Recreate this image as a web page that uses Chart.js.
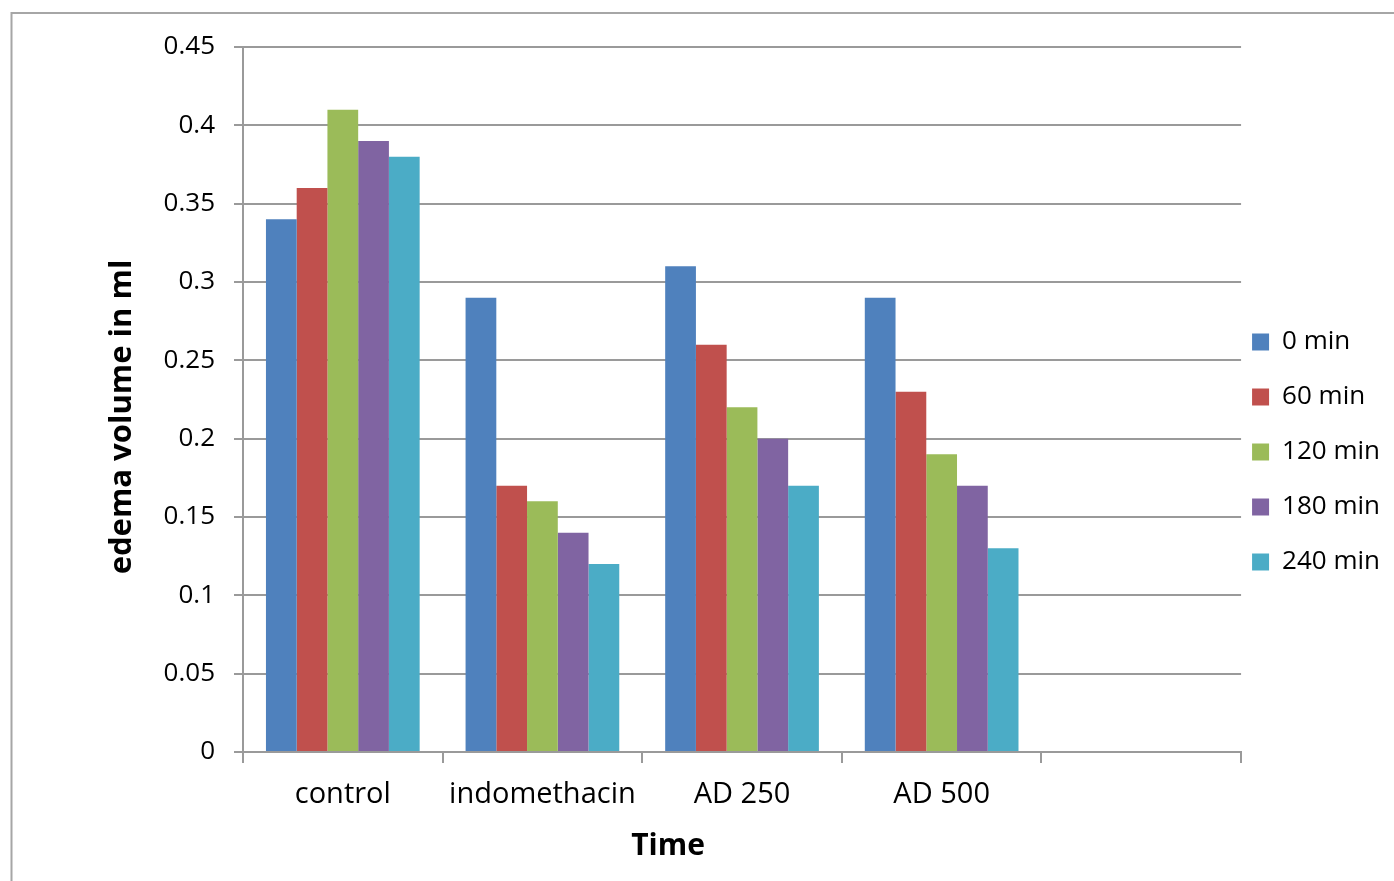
<!DOCTYPE html>
<html>
<head>
<meta charset="utf-8">
<script src="https://cdn.jsdelivr.net/npm/chart.js@4/dist/chart.umd.min.js"></script>
<style>
  html, body { margin: 0; padding: 0; background: #fff; }
  #cadre { position: relative; width: 1394px; height: 881px; }
</style>
</head>
<body>
<div id="cadre"><canvas id="graphique"></canvas></div>
<script>
const categories = ['control', 'indomethacin', 'AD 250', 'AD 500', ''];
const series = ['0 min', '60 min', '120 min', '180 min', '240 min'];

const valeurs0min = [0.34, 0.29, 0.31, 0.29, null];
const valeurs60min = [0.36, 0.17, 0.26, 0.23, null];
const valeurs120min = [0.41, 0.16, 0.22, 0.19, null];
const valeurs180min = [0.39, 0.14, 0.20, 0.17, null];
const valeurs240min = [0.38, 0.12, 0.17, 0.13, null];

const titreX = 'Time';
const titreY = 'edema volume in ml';

const couleurs = {
  bleu: '#4f81bd',
  rouge: '#c0504d',
  vert: '#9bbb59',
  violet: '#8064a2',
  cyan: '#4bacc6',
  grille: '#9a9a9a',
  texte: '#000',
};

const couleursSeries = [couleurs.bleu, couleurs.rouge, couleurs.vert, couleurs.violet, couleurs.cyan];
const valeursSeries = [valeurs0min, valeurs60min, valeurs120min, valeurs180min, valeurs240min];

const police = 'Open Sans';

// cadre gris autour du graphique, comme dans Excel
const cadre = {
  id: 'cadre',
  beforeDraw(chart) {
    const { ctx } = chart;
    ctx.save();
    ctx.strokeStyle = '#a6a6a6';
    ctx.lineWidth = 2;
    ctx.strokeRect(11.5, 13, chart.width + 10, chart.height + 10);
    ctx.restore();
  },
};

const decale = (boite, dx, dy) => {
  if (!boite) return;
  boite.left += dx;
  boite.right += dx;
  boite.top += dy;
  boite.bottom += dy;
};

// Excel ne centre ni la legende ni les titres sur la zone de trace : petits decalages
const decaleBoites = {
  id: 'decaleBoites',
  afterLayout(chart) {
    decale(chart.legend, -18, -12);
    decale(chart.titleBlock, -36, 0);
    decale(chart.boxes.find((b) => b.options && b.options.text === titreY), 0, -47);
  },
};

const formateur = (valeur) => String(Number(valeur.toFixed(2)));

const data = () => ({
  labels: categories,
  datasets: series.map((nom, i) => ({
    label: nom,
    data: valeursSeries[i],
    backgroundColor: couleursSeries[i],
    borderWidth: 0,
    categoryPercentage: 0.77,
    barPercentage: 1,
  })),
});

const config = () => ({
  type: 'bar',
  data: data(),
  plugins: [cadre, decaleBoites],
  options: {
    responsive: true,
    maintainAspectRatio: false,
    animation: false,
    layout: {
      padding: { top: 47, right: -14, bottom: 0, left: 0 },
    },
    plugins: {
      tooltip: { enabled: false },
      legend: {
        position: 'right',
        align: 'center',
        labels: {
          color: couleurs.texte,
          boxWidth: 17,
          boxHeight: 17,
          padding: 29,
          font: { family: police, size: 26 },
        },
      },
      title: {
        display: true,
        position: 'bottom',
        text: titreX,
        color: couleurs.texte,
        padding: { top: 0, bottom: 17 },
        font: { family: police, size: 30, weight: 'bold', lineHeight: 1.2 },
      },
      subtitle: {
        display: true,
        position: 'left',
        text: titreY,
        color: couleurs.texte,
        padding: { top: 104, bottom: 1 },
        font: { family: police, size: 31, weight: 'bold', lineHeight: 1.2 },
      },
    },
    scales: {
      x: {
        afterFit: (echelle) => { echelle.height = 76; },
        grid: {
          display: true,
          drawOnChartArea: false,
          drawTicks: true,
          tickLength: 11,
          color: couleurs.grille,
          lineWidth: 2,
        },
        border: { display: true, color: couleurs.grille, width: 2 },
        ticks: {
          color: couleurs.texte,
          padding: 14,
          maxRotation: 0,
          font: { family: police, size: 29 },
        },
      },
      y: {
        min: 0,
        max: 0.45,
        afterFit: (echelle) => { echelle.width = 100.8; },
        grid: {
          color: couleurs.grille,
          lineWidth: 2,
          drawTicks: true,
          tickLength: 9,
        },
        border: { display: true, color: couleurs.grille, width: 2 },
        ticks: {
          stepSize: 0.05,
          color: couleurs.texte,
          padding: 19,
          font: { family: police, size: 26 },
          callback: formateur,
        },
      },
    },
  },
});

/* eslint-disable no-new */
new Chart(document.getElementById('graphique'), config());
/* eslint-enable no-new */
</script>
</body>
</html>
